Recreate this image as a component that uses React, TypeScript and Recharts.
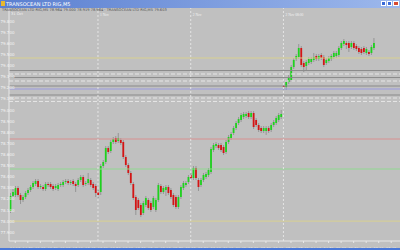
import React from 'react';
import { ComposedChart, Bar, XAxis, YAxis, ReferenceLine } from 'recharts';

// 5-minute candles (two sessions, gap at the session break)
const opens = [
  78.091, 78.226, 78.235, 78.298, 78.235, 78.19, 78.217, 78.253, 78.28, 78.307,
  78.334, 78.361, 78.307, 78.307, 78.289, 78.334, 78.334, 78.316, 78.298, 78.289,
  78.325, 78.325, 78.352, 78.361, 78.343, 78.361, 78.334, 78.325, 78.37, 78.397,
  78.334, 78.343, 78.37, 78.334, 78.316, 78.262, 78.262, 78.496, 78.532, 78.658,
  78.631, 78.712, 78.748, 78.721, 78.73, 78.712, 78.577, 78.505, 78.433, 78.334,
  78.217, 78.19, 78.145, 78.073, 78.145, 78.19, 78.163, 78.127, 78.1, 78.19,
  78.316, 78.262, 78.28, 78.307, 78.28, 78.235, 78.217, 78.127, 78.217, 78.298,
  78.325, 78.352, 78.415, 78.388, 78.478, 78.37, 78.325, 78.37, 78.397, 78.415,
  78.442, 78.64, 78.676, 78.685, 78.685, 78.667, 78.622, 78.712, 78.748, 78.793,
  78.838, 78.883, 78.91, 78.937, 78.946, 78.973, 78.937, 78.973, 78.91, 78.865,
  78.838, 78.811, 78.811, 78.838, 78.82, 78.865, 78.883, 78.91, 78.937,
  79.216, 79.207, 79.252, 79.27, 79.387, 79.459, 79.477, 79.558, 79.423, 79.396,
  79.423, 79.432, 79.45, 79.486, 79.459, 79.495, 79.477, 79.423, 79.441, 79.459,
  79.477, 79.486, 79.495, 79.558, 79.594, 79.603, 79.603, 79.567, 79.603, 79.576,
  79.558, 79.549, 79.558, 79.513, 79.522, 79.513, 79.558,
];
const highs = [
  78.253, 78.289, 78.316, 78.316, 78.253, 78.235, 78.271, 78.298, 78.325, 78.361,
  78.379, 78.379, 78.334, 78.325, 78.352, 78.352, 78.352, 78.334, 78.334, 78.343,
  78.352, 78.37, 78.379, 78.379, 78.37, 78.379, 78.352, 78.388, 78.415, 78.415,
  78.361, 78.433, 78.388, 78.352, 78.334, 78.28, 78.514, 78.55, 78.676, 78.676,
  78.73, 78.757, 78.766, 78.793, 78.748, 78.73, 78.595, 78.523, 78.451, 78.352,
  78.235, 78.208, 78.163, 78.181, 78.226, 78.208, 78.181, 78.226, 78.208, 78.343,
  78.334, 78.316, 78.325, 78.325, 78.298, 78.253, 78.235, 78.235, 78.325, 78.361,
  78.361, 78.415, 78.433, 78.496, 78.496, 78.388, 78.388, 78.433, 78.442, 78.478,
  78.667, 78.703, 78.712, 78.703, 78.703, 78.685, 78.73, 78.775, 78.802, 78.856,
  78.901, 78.937, 78.973, 78.982, 78.982, 78.991, 78.991, 78.991, 78.928, 78.883,
  78.856, 78.856, 78.856, 78.856, 78.883, 78.91, 78.946, 78.973, 79.0,
  79.234, 79.27, 79.315, 79.405, 79.468, 79.504, 79.594, 79.576, 79.441, 79.45,
  79.477, 79.477, 79.513, 79.504, 79.504, 79.513, 79.495, 79.468, 79.486, 79.504,
  79.531, 79.531, 79.576, 79.621, 79.639, 79.621, 79.621, 79.621, 79.621, 79.594,
  79.576, 79.567, 79.576, 79.567, 79.54, 79.585, 79.648,
];
const lows = [
  78.073, 78.217, 78.217, 78.217, 78.154, 78.172, 78.199, 78.235, 78.262, 78.289,
  78.316, 78.289, 78.289, 78.271, 78.271, 78.307, 78.289, 78.271, 78.28, 78.271,
  78.307, 78.307, 78.334, 78.325, 78.325, 78.316, 78.262, 78.307, 78.352, 78.307,
  78.316, 78.325, 78.307, 78.28, 78.217, 78.208, 78.235, 78.478, 78.514, 78.604,
  78.613, 78.694, 78.694, 78.703, 78.685, 78.559, 78.487, 78.415, 78.325, 78.19,
  78.055, 78.1, 78.037, 78.055, 78.127, 78.1, 78.082, 78.109, 78.082, 78.172,
  78.244, 78.244, 78.226, 78.235, 78.199, 78.127, 78.109, 78.109, 78.199, 78.28,
  78.307, 78.334, 78.37, 78.37, 78.37, 78.271, 78.307, 78.352, 78.379, 78.397,
  78.424, 78.622, 78.658, 78.64, 78.622, 78.595, 78.604, 78.694, 78.73, 78.775,
  78.82, 78.865, 78.892, 78.919, 78.928, 78.919, 78.919, 78.829, 78.847, 78.802,
  78.793, 78.793, 78.775, 78.793, 78.802, 78.847, 78.865, 78.892, 78.919,
  79.18, 79.18, 79.234, 79.252, 79.369, 79.441, 79.459, 79.387, 79.342, 79.36,
  79.405, 79.414, 79.432, 79.441, 79.441, 79.45, 79.387, 79.405, 79.423, 79.441,
  79.459, 79.468, 79.477, 79.54, 79.576, 79.549, 79.522, 79.549, 79.54, 79.531,
  79.504, 79.495, 79.504, 79.495, 79.486, 79.495, 79.54,
];
const closes = [
  78.226, 78.262, 78.298, 78.235, 78.19, 78.217, 78.253, 78.28, 78.307, 78.343,
  78.361, 78.307, 78.316, 78.289, 78.334, 78.325, 78.307, 78.289, 78.316, 78.325,
  78.334, 78.352, 78.361, 78.343, 78.352, 78.334, 78.316, 78.37, 78.397, 78.325,
  78.343, 78.379, 78.325, 78.298, 78.253, 78.235, 78.496, 78.532, 78.658, 78.622,
  78.712, 78.739, 78.712, 78.748, 78.703, 78.577, 78.505, 78.433, 78.343, 78.208,
  78.1, 78.118, 78.055, 78.163, 78.208, 78.118, 78.1, 78.208, 78.19, 78.325,
  78.262, 78.298, 78.307, 78.253, 78.217, 78.145, 78.127, 78.217, 78.307, 78.343,
  78.343, 78.397, 78.388, 78.478, 78.388, 78.307, 78.37, 78.415, 78.424, 78.46,
  78.649, 78.685, 78.694, 78.658, 78.64, 78.613, 78.712, 78.757, 78.784, 78.838,
  78.883, 78.919, 78.955, 78.964, 78.964, 78.937, 78.973, 78.847, 78.865, 78.82,
  78.811, 78.838, 78.838, 78.811, 78.865, 78.892, 78.928, 78.955, 78.964,
  79.207, 79.252, 79.297, 79.387, 79.45, 79.486, 79.558, 79.405, 79.387, 79.432,
  79.459, 79.459, 79.477, 79.459, 79.486, 79.468, 79.405, 79.45, 79.468, 79.486,
  79.513, 79.513, 79.558, 79.603, 79.621, 79.585, 79.558, 79.603, 79.558, 79.549,
  79.522, 79.513, 79.522, 79.549, 79.504, 79.567, 79.603,
];
const slotCount = 156;

const priceTicks = [77.9, 78.0, 78.1, 78.2, 78.3, 78.4, 78.5, 78.6, 78.7, 78.8, 78.9, 79.0, 79.1, 79.2, 79.3, 79.4, 79.5, 79.6, 79.7, 79.8];
const timeTicks = [2, 7, 12, 17, 22, 27, 32, 37, 42, 47, 52, 57, 62, 67, 72, 77, 82, 87, 92, 97, 102, 107, 112, 117, 122, 127, 132, 137, 142, 147, 152];
const timeLabels = [
  '14:10', '14:35', '15:00', '15:25', '15:50', '16:15', '16:40', '17:05', '17:30', '17:55',
  '18:20', '18:45', '19:10', '19:35', '00:00', '00:25', '00:50', '01:15', '01:40', '02:05',
  '02:30', '02:55', '03:20', '03:45', '04:10', '04:35', '05:00', '05:25', '05:50', '06:15', '06:40',
];
const dayLines = [35, 72, 109];
const dayLabels = ['1 Nov', '2 Nov', '2 Nov 08:00'];

// horizontal levels drawn on the terminal
const levels = [
  { p: 79.468, c: '#d8d090', d: undefined },
  { p: 79.355, c: '#8a8a8a', d: undefined },
  { p: 79.324, c: '#e6e6e6', d: '4 2' },
  { p: 79.292, c: '#8a8a8a', d: undefined },
  { p: 79.261, c: '#e6e6e6', d: '4 2' },
  { p: 79.216, c: '#8a8a8a', d: undefined },
  { p: 79.189, c: '#9c9ce0', d: undefined },
  { p: 79.135, c: '#8a8a8a', d: undefined },
  { p: 79.108, c: '#e6e6e6', d: '4 2' },
  { p: 79.077, c: '#e6e6e6', d: '4 2' },
  { p: 78.739, c: '#d89090', d: undefined },
  { p: 78.469, c: '#90d890', d: undefined },
  { p: 78.0, c: '#d8d090', d: undefined },
];

const rows = Array.from({ length: slotCount }, (_, i) =>
  i < opens.length
    ? { i, open: opens[i], high: highs[i], low: lows[i], close: closes[i], hl: [lows[i], highs[i]] }
    : { i, open: null, high: null, low: null, close: null, hl: null }
);

const Candle = (props: any) => {
  const { x, y, width, height, payload } = props;
  if (payload.high == null) return null;
  const top = Math.min(y, y + height);
  const h = Math.abs(height);
  const k = h / (payload.high - payload.low);
  const yO = top + (payload.high - payload.open) * k;
  const yC = top + (payload.high - payload.close) * k;
  const up = payload.close >= payload.open;
  const cx = x + width / 2;
  return (
    <g>
      <line x1={cx} x2={cx} y1={top} y2={top + h} stroke="#8a8a8a" strokeWidth={0.8} />
      <rect x={cx - 0.9} width={1.8} y={Math.min(yO, yC)} height={Math.max(Math.abs(yC - yO), 0.8)} fill={up ? '#1ed21e' : '#d41414'} />
    </g>
  );
};

const PriceTick = (props: any) => (
  <text x={0.5} y={props.y + 1.5} fontSize={4} fill="#f4f4f4" fontFamily="DejaVu Sans">
    {props.payload.value.toFixed(3)}
  </text>
);

const TimeTick = (props: any) => {
  const idx = timeTicks.indexOf(props.payload.value);
  return (
    <text x={props.x} y={props.y + 4.5} fontSize={3.6} fill="#f4f4f4" textAnchor="middle" fontFamily="DejaVu Sans">
      {timeLabels[idx]}
    </text>
  );
};

export default function App() {
  return (
    <div style={{ position: 'fixed', left: 0, top: 0, width: 400, height: 250, background: '#c0c0c0', overflow: 'hidden' }}>
      <ComposedChart width={400} height={250} data={rows} margin={{ top: 8, right: 0, bottom: 0, left: 0 }} barCategoryGap={0}>
        <XAxis
          dataKey="i"
          ticks={timeTicks}
          interval={0}
          height={9}
          axisLine={{ stroke: '#e8e8e8' }}
          tickLine={{ stroke: '#e8e8e8' }}
          tickSize={2}
          tick={<TimeTick />}
        />
        <YAxis
          domain={[77.821, 79.918]}
          allowDataOverflow
          ticks={priceTicks}
          interval={0}
          width={9}
          axisLine={{ stroke: '#e8e8e8' }}
          tickLine={false}
          tick={<PriceTick />}
        />
        {levels.map((l, k) => (
          <ReferenceLine key={k} y={l.p} stroke={l.c} strokeWidth={1} strokeDasharray={l.d} />
        ))}
        {dayLines.map((d, k) => (
          <ReferenceLine
            key={'d' + k}
            x={d}
            stroke="#e4e4e4"
            strokeDasharray="2 2"
            label={{ value: dayLabels[k], position: 'insideTopLeft', fontSize: 3.6, fill: '#f4f4f4', offset: 2, dy: 3 }}
          />
        ))}
        <Bar dataKey="hl" shape={<Candle />} isAnimationActive={false} />
      </ComposedChart>

      {/* terminal window chrome */}
      <div style={{ position: 'absolute', left: 0, top: 0, width: 400, height: 8, background: 'linear-gradient(to right, #5a7fd0, #9db8ec)' }}>
        <div style={{ position: 'absolute', left: 1, top: 1, width: 4, height: 5, background: '#e8b830' }} />
        <div style={{ position: 'absolute', left: 6, top: 1, fontSize: 5, lineHeight: '6px', color: '#ffffff', fontFamily: 'DejaVu Sans', whiteSpace: 'nowrap' }}>
          TRANSOCEAN LTD RIG,M5
        </div>
        <div style={{ position: 'absolute', left: 381, top: 1, width: 5, height: 5, background: '#3a6ad8', border: '0.5px solid #fff', boxSizing: 'border-box' }} />
        <div style={{ position: 'absolute', left: 387, top: 1, width: 5, height: 5, background: '#3a6ad8', border: '0.5px solid #fff', boxSizing: 'border-box' }} />
        <div style={{ position: 'absolute', left: 393, top: 1, width: 6, height: 5, background: '#d84a30', border: '0.5px solid #fff', boxSizing: 'border-box' }} />
      </div>
      <div style={{ position: 'absolute', left: 2, top: 8, fontSize: 3.6, lineHeight: '5px', color: '#505050', fontFamily: 'DejaVu Sans', whiteSpace: 'nowrap' }}>
        TRANSOCEAN LTD RIG,M5 78.964 79.000 78.919 78.964 · TRANSOCEAN LTD RIG,M5 79.603
      </div>
      <div style={{ position: 'absolute', left: 11, top: 12, fontSize: 3.6, lineHeight: '4px', color: '#f4f4f4', fontFamily: 'DejaVu Sans' }}>31 Oct</div>
      <div style={{ position: 'absolute', left: 0, top: 248, width: 400, height: 2, background: '#4a78d8' }} />
    </div>
  );
}
